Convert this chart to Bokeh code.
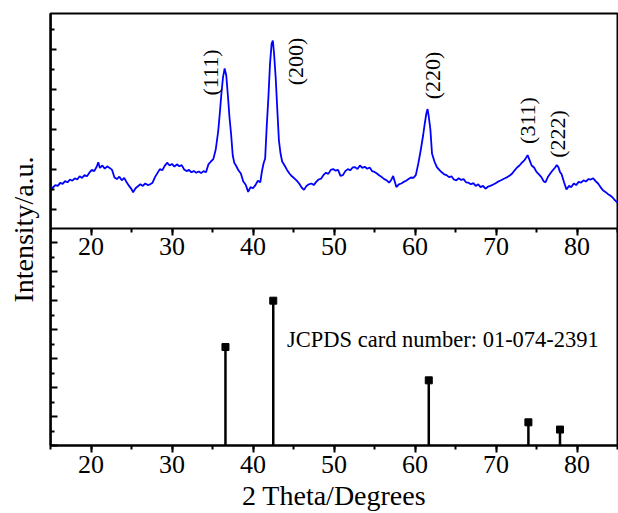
import math
from bokeh.plotting import figure
from bokeh.models import Range1d, LinearAxis, FixedTicker, SingleIntervalTicker, CustomLabelingPolicy
from bokeh.core.properties import value
from bokeh.embed import file_html
from bokeh.resources import INLINE

# measured XRD pattern (2theta in degrees, intensity in counts, a.u.)
two_theta = [15.0, 15.3, 15.6, 15.9, 16.2, 16.5, 16.8, 17.1, 17.4, 17.7, 18.0, 18.3, 18.6, 18.9, 19.2, 19.5,
             19.8, 20.1, 20.4, 20.7, 20.9, 21.1, 21.4, 21.7, 22.0, 22.3, 22.6, 22.9, 23.2, 23.5, 23.8, 24.1,
             24.4, 24.7, 25.0, 25.2, 25.5, 25.8, 26.1, 26.4, 26.7, 27.0, 27.3, 27.6, 27.9, 28.2, 28.5, 28.8,
             29.1, 29.4, 29.7, 30.0, 30.3, 30.6, 30.9, 31.2, 31.5, 31.8, 32.1, 32.4, 32.7, 33.0, 33.3, 33.6,
             33.9, 34.2, 34.5, 34.8, 35.1, 35.4, 35.7, 35.9, 36.1, 36.3, 36.5, 36.7, 36.9, 37.1, 37.3, 37.5,
             37.7, 37.9, 38.2, 38.5, 38.8, 39.1, 39.4, 39.7, 40.0, 40.3, 40.6, 40.9, 41.1, 41.3, 41.5, 41.7,
             41.9, 42.1, 42.3, 42.45, 42.6, 42.8, 43.0, 43.2, 43.4, 43.6, 43.9, 44.2, 44.5, 44.8, 45.1, 45.4,
             45.7, 46.0, 46.3, 46.6, 46.9, 47.2, 47.5, 47.8, 48.1, 48.4, 48.7, 49.0, 49.3, 49.6, 49.9, 50.2,
             50.5, 50.8, 51.1, 51.4, 51.7, 52.0, 52.3, 52.6, 52.9, 53.2, 53.5, 53.8, 54.1, 54.4, 54.7, 55.0,
             55.3, 55.6, 55.9, 56.2, 56.5, 56.8, 57.1, 57.3, 57.5, 57.7, 58.0, 58.3, 58.6, 58.9, 59.2, 59.5,
             59.8, 60.1, 60.4, 60.7, 61.0, 61.2, 61.4, 61.55, 61.7, 61.9, 62.1, 62.4, 62.7, 63.0, 63.3, 63.6,
             63.9, 64.2, 64.5, 64.8, 65.1, 65.4, 65.7, 66.0, 66.3, 66.6, 66.9, 67.2, 67.5, 67.8, 68.1, 68.4,
             68.7, 69.0, 69.3, 69.6, 69.9, 70.2, 70.5, 70.8, 71.1, 71.4, 71.7, 72.0, 72.3, 72.6, 72.9, 73.2,
             73.5, 73.7, 73.9, 74.1, 74.4, 74.7, 75.0, 75.3, 75.6, 75.9, 76.1, 76.4, 76.7, 77.0, 77.3, 77.5,
             77.7, 77.9, 78.1, 78.4, 78.7, 79.0, 79.3, 79.6, 79.9, 80.2, 80.5, 80.8, 81.1, 81.4, 81.7, 82.0,
             82.3, 82.6, 82.9, 83.2, 83.5, 83.8, 84.1, 84.4, 84.7, 85.0]
intensity = [292, 310, 322, 318, 333, 328, 342, 336, 350, 344, 356, 350, 366, 358, 372, 366,
             384, 398, 392, 414, 436, 408, 420, 404, 416, 408, 398, 360, 352, 364, 346, 358,
             336, 318, 302, 286, 306, 316, 326, 318, 330, 322, 326, 334, 362, 382, 402, 396,
             418, 434, 420, 428, 414, 426, 416, 422, 400, 392, 398, 386, 392, 384, 390, 382,
             392, 386, 426, 440, 452, 500, 590, 680, 780, 862, 905, 870, 770, 660, 575, 470,
             432, 420, 396, 380, 340, 324, 288, 312, 306, 322, 344, 336, 390, 430, 455, 620,
             760, 928, 1030, 1045, 980, 860, 700, 545, 480, 440, 420, 398, 380, 366, 356, 344,
             330, 310, 298, 318, 326, 330, 322, 338, 350, 354, 372, 384, 378, 398, 402, 394,
             398, 368, 372, 392, 402, 396, 410, 412, 402, 420, 408, 414, 404, 410, 392, 388,
             380, 370, 362, 352, 346, 334, 350, 368, 340, 312, 326, 330, 338, 344, 352, 360,
             358, 372, 428, 495, 570, 628, 680, 702, 665, 600, 480, 440, 412, 398, 386, 376,
             372, 362, 366, 350, 346, 356, 348, 352, 336, 334, 326, 332, 318, 326, 312, 318,
             304, 314, 318, 324, 330, 338, 344, 350, 356, 362, 370, 380, 396, 410, 420, 434,
             446, 458, 472, 452, 420, 410, 388, 376, 362, 340, 336, 362, 380, 396, 410, 422,
             412, 388, 376, 336, 300, 318, 312, 330, 322, 338, 334, 346, 340, 352, 350, 356,
             342, 330, 312, 296, 288, 278, 270, 260, 246, 234]

# reference card lines (JCPDS 01-074-2391), relative intensity
ref_two_theta = [36.6, 42.5, 61.7, 74.0, 77.9]
ref_intensity = [68, 100, 45, 16, 11]

peak_labels = ["(111)", "(200)", "(220)", "(311)", "(222)"]
peak_label_x = [34.7, 45.3, 62.2, 73.95, 77.65]
peak_label_y = [885, 940, 870, 645, 578]

card_text = ["JCPDS card number: 01-074-2391"]
card_x = [44.2]
card_y = [73.1]

x_label = "2 Theta/Degrees"
y_label = "Intensity/a.u."

FONT = "Liberation Serif"

p = figure(width=618, height=513, x_range=Range1d(15, 85), y_range=Range1d(0, 298.3),
           output_backend="svg", toolbar_location=None, x_axis_type=None, y_axis_type=None,
           min_border_left=50, min_border_right=1, min_border_top=13, min_border_bottom=68)
p.extra_y_ranges = {"xrd": Range1d(-980, 1180)}
p.outline_line_color = "black"
p.outline_line_width = 2
p.background_fill_color = "white"
p.border_fill_color = "white"


def no_labels():
    return CustomLabelingPolicy(code="for (const i of indices) indices.unset(i); return indices")


def style_common(ax):
    ax.axis_line_width = 2
    ax.axis_line_color = "black"
    ax.major_tick_line_width = 2
    ax.minor_tick_line_width = 2
    ax.major_tick_line_color = "black"
    ax.minor_tick_line_color = "black"
    ax.major_label_text_color = "black"
    ax.axis_label_text_color = "black"


def style_x(ax):
    style_common(ax)
    ax.major_tick_out = 7
    ax.major_tick_in = 0
    ax.minor_tick_out = 4
    ax.minor_tick_in = 0
    ax.major_label_text_font = FONT
    ax.major_label_text_font_size = "26px"
    ax.major_label_standoff = 3


xa = LinearAxis(ticker=SingleIntervalTicker(interval=10, num_minor_ticks=2))
style_x(xa)
xa.axis_label = x_label
xa.axis_label_text_font = FONT
xa.axis_label_text_font_size = "28px"
xa.axis_label_text_font_style = "normal"
xa.axis_label_standoff = 4
p.add_layout(xa, "below")

xs = LinearAxis(ticker=SingleIntervalTicker(interval=10, num_minor_ticks=2), fixed_location=150)
style_x(xs)
p.add_layout(xs, "below")

ya = LinearAxis(ticker=FixedTicker(ticks=[0, 20, 40, 60, 80, 100, 120, 140],
                                   minor_ticks=[10, 30, 50, 70, 90, 110, 130]),
                major_label_policy=no_labels())
style_common(ya)
ya.major_tick_in = 7
ya.major_tick_out = 0
ya.minor_tick_in = 4
ya.minor_tick_out = 0
ya.major_label_text_font_size = "0px"
ya.major_label_standoff = 0
ya.axis_label = y_label
ya.axis_label_text_font = FONT
ya.axis_label_text_font_size = "28px"
ya.axis_label_text_font_style = "normal"
ya.axis_label_standoff = 12
p.add_layout(ya, "left")

yu = LinearAxis(y_range_name="xrd", fixed_location=15,
                ticker=FixedTicker(ticks=[200, 400, 600, 800, 1000],
                                   minor_ticks=[300, 500, 700, 900, 1100]),
                major_label_policy=no_labels())
style_common(yu)
yu.major_tick_in = 6
yu.major_tick_out = 0
yu.minor_tick_in = 4
yu.minor_tick_out = 0
yu.major_label_text_font_size = "0px"
p.add_layout(yu, "left")

p.line(two_theta, intensity, y_range_name="xrd", line_color="#0000ff", line_width=1.8)

p.segment(x0=ref_two_theta, y0=[0] * len(ref_two_theta), x1=ref_two_theta, y1=ref_intensity,
          line_color="black", line_width=2.5)
p.scatter(ref_two_theta, ref_intensity, marker="square", size=7, color="black")

p.text(x=peak_label_x, y=peak_label_y, text=peak_labels, y_range_name="xrd", angle=math.pi / 2,
       text_font=value(FONT), text_font_size="22px", text_align="center", text_baseline="middle",
       text_color="black")
p.text(x=card_x, y=card_y, text=card_text, text_font=value(FONT), text_font_size="22.5px",
       text_align="left", text_baseline="alphabetic", text_color="black")

open("out.html", "w").write(file_html(p, INLINE))
